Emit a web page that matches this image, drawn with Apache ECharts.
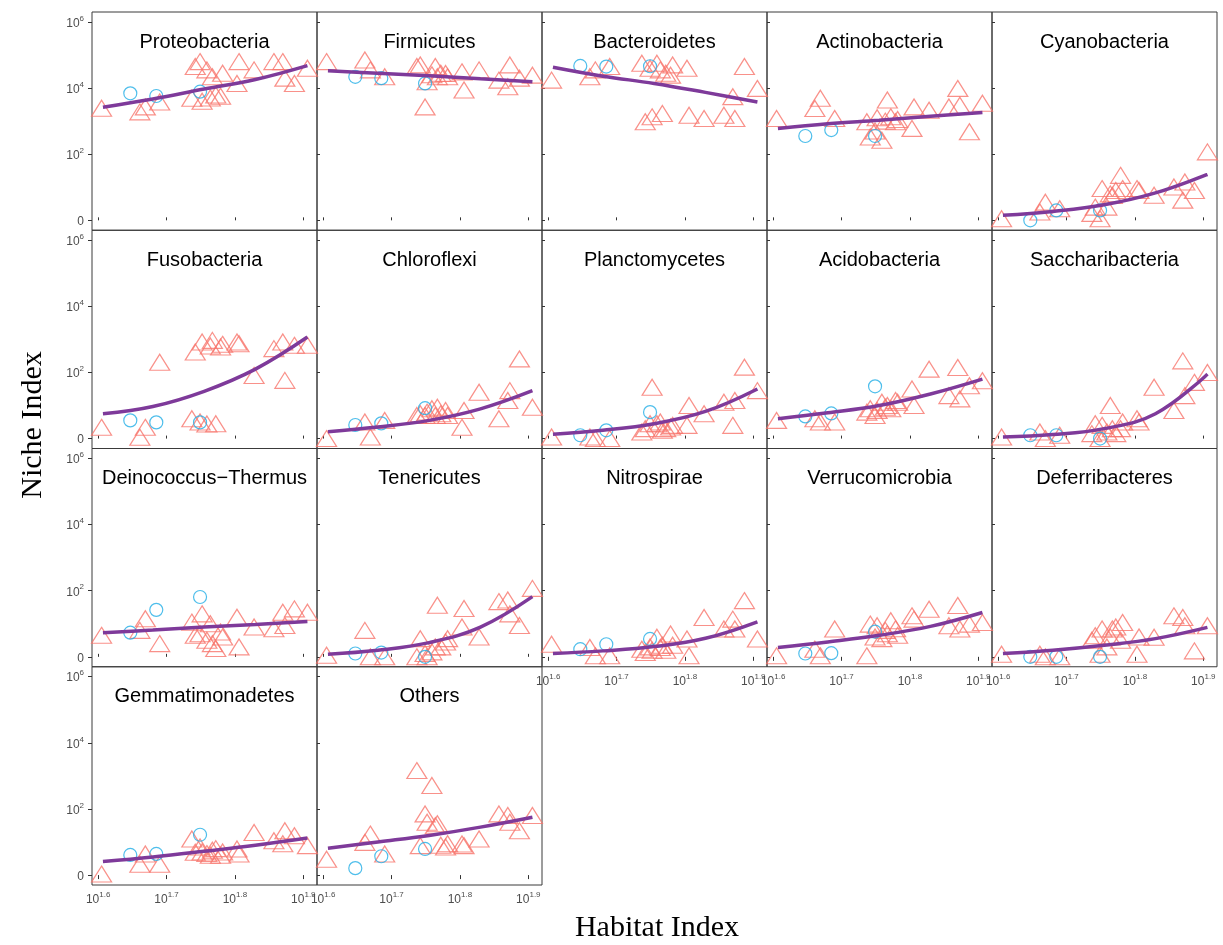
<!DOCTYPE html>
<html>
<head>
<meta charset="utf-8">
<script src="https://cdn.jsdelivr.net/npm/echarts@6/dist/echarts.min.js"></script>
<style>
  html, body { margin: 0; padding: 0; background: #fff; }
  #chart { width: 1223px; height: 945px; }
</style>
</head>
<body>
<div id="chart"></div>
<script>
// ---- data (log10 units: x = log10 habitat index, y = log10 niche index) ----
var panelNames = ['Proteobacteria', 'Firmicutes', 'Bacteroidetes', 'Actinobacteria', 'Cyanobacteria',
  'Fusobacteria', 'Chloroflexi', 'Planctomycetes', 'Acidobacteria', 'Saccharibacteria',
  'Deinococcus\u2212Thermus', 'Tenericutes', 'Nitrospirae', 'Verrucomicrobia', 'Deferribacteres',
  'Gemmatimonadetes', 'Others'];

// habitat index of the samples (triangles / circles) and x of the fitted curve
var triX = [1.605, 1.661, 1.669, 1.690, 1.737, 1.742, 1.749, 1.752, 1.759, 1.764, 1.767,
  1.772, 1.779, 1.782, 1.803, 1.806, 1.828, 1.857, 1.870, 1.873, 1.887, 1.906];
var circX = [1.647, 1.685, 1.749];
var fitX = [1.607, 1.680, 1.755, 1.830, 1.906];

var xTicks = [1.6, 1.7, 1.8, 1.9];
var yTicks = [0, 2, 4, 6];

var proteoTri = [3.39, 3.28, 3.43, 3.58, 3.69, 4.65, 4.8, 3.6, 4.55, 3.7, 4.34, 3.79, 3.75, 4.45, 4.14, 4.8, 4.55, 4.8, 4.8, 4.3, 4.14, 4.6];
var proteoCirc = [3.84, 3.76, 3.89];
var proteoFit = [3.42, 3.67, 3.97, 4.26, 4.68];

var firmiTri = [4.8, 4.85, 4.55, 4.34, 4.65, 4.7, 3.43, 4.19, 4.4, 4.65, 4.34, 4.45, 4.44, 4.34, 4.49, 3.94, 4.55, 4.24, 4.04, 4.7, 4.3, 4.39];
var firmiCirc = [4.34, 4.3, 4.14];
var firmiFit = [4.52, 4.45, 4.37, 4.28, 4.19];

var bacteTri = [4.24, 4.34, 4.55, 4.65, 4.75, 2.98, 4.6, 3.13, 4.75, 4.55, 3.23, 4.45, 4.39, 4.7, 4.6, 3.18, 3.08, 3.18, 3.74, 3.08, 4.65, 3.99];
var bacteCirc = [4.67, 4.65, 4.66];
var bacteFit = [4.63, 4.36, 4.14, 3.87, 3.58];

var actinoTri = [3.08, 3.38, 3.69, 3.08, 2.98, 2.52, 2.7, 3.1, 2.42, 3.0, 3.64, 3.13, 2.98, 3.05, 2.78, 3.43, 3.33, 3.43, 3.99, 3.48, 2.68, 3.54];
var actinoCirc = [2.55, 2.73, 2.55];
var actinoFit = [2.78, 2.92, 3.03, 3.15, 3.26];

var cyanoTri = [0.05, 0.25, 0.55, 0.35, 0.21, 0.4, 0.05, 0.96, 0.4, 0.8, 0.75, 0.9, 1.36, 0.96, 0.96, 0.9, 0.76, 1.01, 0.61, 1.16, 0.9, 2.07];
var cyanoCirc = [0.0, 0.3, 0.3];
var cyanoFit = [0.15, 0.27, 0.47, 0.83, 1.39];

var fusoTri = [0.34, 0.04, 0.34, 2.31, 0.6, 2.62, 0.5, 2.92, 0.44, 2.8, 2.97, 0.45, 2.77, 2.85, 2.92, 2.87, 1.91, 2.72, 2.92, 1.76, 2.82, 2.82];
var fusoCirc = [0.55, 0.49, 0.49];
var fusoFit = [0.75, 0.97, 1.43, 2.1, 3.07];

var chloroTri = [0.0, 0.5, 0.05, 0.55, 0.7, 0.75, 0.7, 0.8, 0.9, 0.7, 0.95, 0.75, 0.85, 0.7, 0.34, 0.85, 1.4, 0.6, 1.15, 1.45, 2.41, 0.95];
var chloroCirc = [0.41, 0.46, 0.92];
var chloroFit = [0.21, 0.35, 0.55, 0.9, 1.45];

var planctoTri = [0.05, 0.05, 0.0, 0.0, 0.2, 0.3, 0.45, 1.55, 0.45, 0.5, 0.25, 0.3, 0.35, 0.4, 0.4, 1.0, 0.75, 1.1, 0.4, 1.15, 2.16, 1.45];
var planctoCirc = [0.1, 0.25, 0.8];
var planctoFit = [0.13, 0.25, 0.45, 0.82, 1.5];

var acidoTri = [0.55, 0.6, 0.5, 0.5, 0.8, 0.9, 0.7, 0.85, 1.1, 0.95, 1.0, 0.9, 1.15, 1.1, 1.5, 1.0, 2.1, 1.3, 2.15, 1.2, 1.6, 1.75];
var acidoCirc = [0.67, 0.76, 1.58];
var acidoFit = [0.6, 0.78, 1.0, 1.35, 1.8];

var saccharTri = [0.05, 0.2, 0.0, 0.1, 0.15, 0.45, 0.0, 0.4, 0.2, 1.0, 0.3, 0.15, 0.3, 0.5, 0.6, 0.5, 1.55, 0.85, 2.35, 1.3, 1.7, 2.0];
var saccharCirc = [0.1, 0.1, 0.0];
var saccharFit = [0.05, 0.12, 0.3, 0.75, 1.95];

var deinoTri = [0.65, 0.8, 1.15, 0.4, 1.05, 0.65, 0.7, 1.3, 0.5, 1.0, 0.4, 0.25, 0.75, 0.6, 1.2, 0.3, 0.9, 0.85, 1.35, 0.95, 1.45, 1.35];
var deinoCirc = [0.73, 1.42, 1.81];
var deinoFit = [0.73, 0.81, 0.9, 0.98, 1.07];

var teneriTri = [0.05, 0.8, 0.0, 0.0, 0.0, 0.55, 0.1, 0.0, 0.15, 0.3, 1.56, 0.3, 0.45, 0.55, 0.9, 1.46, 0.6, 1.67, 1.72, 1.3, 0.95, 2.07];
var teneriCirc = [0.1, 0.13, 0.0];
var teneriFit = [0.08, 0.2, 0.43, 0.9, 1.82];

var nitroTri = [0.38, 0.28, 0.03, 0.03, 0.23, 0.13, 0.3, 0.2, 0.59, 0.28, 0.35, 0.2, 0.69, 0.35, 0.54, 0.03, 1.19, 0.84, 1.14, 0.84, 1.7, 0.54];
var nitroCirc = [0.23, 0.38, 0.54];
var nitroFit = [0.1, 0.18, 0.31, 0.56, 1.06];

var verrucoTri = [0.03, 0.23, 0.03, 0.84, 0.03, 0.99, 0.6, 0.94, 0.55, 0.8, 0.7, 1.09, 0.85, 0.65, 1.24, 1.14, 1.44, 0.94, 1.55, 0.84, 0.99, 1.04];
var verrucoCirc = [0.1, 0.11, 0.76];
var verrucoFit = [0.28, 0.45, 0.65, 0.92, 1.34];

var deferriTri = [0.08, 0.08, 0.0, 0.0, 0.5, 0.64, 0.08, 0.84, 0.3, 0.6, 0.84, 0.9, 0.5, 1.04, 0.08, 0.6, 0.59, 1.24, 1.19, 0.94, 0.18, 0.94];
var deferriCirc = [0.0, 0.0, 0.0];
var deferriFit = [0.1, 0.2, 0.35, 0.55, 0.89];

var gemmaTri = [0.03, 0.33, 0.64, 0.33, 1.09, 0.69, 0.85, 0.7, 0.65, 0.6, 0.75, 0.8, 0.6, 0.7, 0.79, 0.64, 1.29, 1.04, 0.95, 1.34, 1.19, 0.89];
var gemmaCirc = [0.61, 0.64, 1.22];
var gemmaFit = [0.41, 0.55, 0.72, 0.9, 1.12];

var othersTri = [0.48, 0.99, 1.24, 0.64, 3.16, 0.89, 1.85, 1.6, 2.71, 1.49, 1.55, 0.9, 0.85, 0.95, 0.94, 0.89, 1.09, 1.85, 1.8, 1.6, 1.34, 1.8];
var othersCirc = [0.21, 0.57, 0.79];
var othersFit = [0.81, 1.0, 1.2, 1.45, 1.75];

var triY = [proteoTri, firmiTri, bacteTri, actinoTri, cyanoTri, fusoTri, chloroTri, planctoTri,
  acidoTri, saccharTri, deinoTri, teneriTri, nitroTri, verrucoTri, deferriTri, gemmaTri, othersTri];
var circY = [proteoCirc, firmiCirc, bacteCirc, actinoCirc, cyanoCirc, fusoCirc, chloroCirc, planctoCirc,
  acidoCirc, saccharCirc, deinoCirc, teneriCirc, nitroCirc, verrucoCirc, deferriCirc, gemmaCirc, othersCirc];
var fitY = [proteoFit, firmiFit, bacteFit, actinoFit, cyanoFit, fusoFit, chloroFit, planctoFit,
  acidoFit, saccharFit, deinoFit, teneriFit, nitroFit, verrucoFit, deferriFit, gemmaFit, othersFit];

// ---- layout ----
var panelLeft = 92, panelTop = 12, panelW = 225, panelH = 218.25;
var triColor = '#F8766D', circColor = '#22AEE6', fitColor = '#7E3A9A';
var tickColor = '#4D4D4D';

var chart = echarts.init(document.getElementById('chart'));

var grids = [], xAxes = [], yAxes = [], series = [], graphics = [];

function zip(xs, ys) {
  return xs.map(function (x, j) { return [x, ys[j]]; });
}

panelNames.forEach(function (name, i) {
  var col = i % 5, row = Math.floor(i / 5);
  var left = panelLeft + col * panelW;
  var top = panelTop + row * panelH;
  var showX = row === 3 || (row === 2 && col >= 2);
  var showY = col === 0;

  grids.push({
    left: left, top: top, width: panelW, height: panelH,
    show: true, borderColor: '#3a3a3a', borderWidth: 1, backgroundColor: 'transparent'
  });

  xAxes.push({
    type: 'value', gridIndex: i, min: 1.591, max: 1.920,
    axisLine: { show: false },
    splitLine: { show: false },
    axisTick: { show: true, inside: !showX, length: showX ? 4 : 3, customValues: xTicks,
      lineStyle: { color: '#333', width: 1 } },
    axisLabel: {
      show: showX, customValues: xTicks, margin: 6, color: tickColor,
      fontFamily: 'Arial, "Liberation Sans", sans-serif', fontSize: 12,
      formatter: function (v) { return '{b|10}{s|' + v.toFixed(1) + '}'; },
      rich: {
        b: { fontSize: 12, color: tickColor, lineHeight: 15, verticalAlign: 'bottom' },
        s: { fontSize: 8, color: tickColor, lineHeight: 9, verticalAlign: 'top' }
      }
    }
  });

  yAxes.push({
    type: 'value', gridIndex: i, min: -0.3, max: 6.3,
    axisLine: { show: false },
    splitLine: { show: false },
    axisTick: { show: true, inside: !showY, length: showY ? 4 : 3, customValues: yTicks,
      lineStyle: { color: '#333', width: 1 } },
    axisLabel: {
      show: showY, customValues: yTicks, margin: 8, color: tickColor,
      fontFamily: 'Arial, "Liberation Sans", sans-serif', fontSize: 12,
      formatter: function (v) { return v === 0 ? '{b|0}' : '{b|10}{s|' + v + '}'; },
      rich: {
        b: { fontSize: 12, color: tickColor, lineHeight: 15, verticalAlign: 'bottom' },
        s: { fontSize: 8, color: tickColor, lineHeight: 9, verticalAlign: 'top' }
      }
    }
  });

  series.push({
    type: 'scatter', xAxisIndex: i, yAxisIndex: i,
    data: zip(triX, triY[i]),
    symbol: 'triangle', symbolSize: [20, 16],
    itemStyle: { color: 'rgba(0,0,0,0)', borderColor: triColor, borderWidth: 1.2 },
    z: 2
  });
  series.push({
    type: 'scatter', xAxisIndex: i, yAxisIndex: i,
    data: zip(circX, circY[i]),
    symbol: 'circle', symbolSize: 13,
    itemStyle: { color: 'rgba(0,0,0,0)', borderColor: circColor, borderWidth: 1.2 },
    z: 3
  });
  series.push({
    type: 'line', xAxisIndex: i, yAxisIndex: i,
    data: zip(fitX, fitY[i]),
    smooth: 0.4, symbol: 'none',
    lineStyle: { color: fitColor, width: 3.5 },
    z: 4
  });

  graphics.push({
    type: 'text', x: left + panelW / 2, y: top + 30, z: 10,
    style: {
      text: name, textAlign: 'center', textVerticalAlign: 'middle',
      font: '20px Arial, "Liberation Sans", sans-serif', fill: '#000'
    }
  });
});

graphics.push({
  type: 'text', x: 33, y: 425, rotation: Math.PI / 2, z: 10,
  style: {
    text: 'Niche Index', textAlign: 'center', textVerticalAlign: 'middle',
    font: '30px "Times New Roman", "Liberation Serif", serif', fill: '#000'
  }
});
graphics.push({
  type: 'text', x: 657, y: 928, z: 10,
  style: {
    text: 'Habitat Index', textAlign: 'center', textVerticalAlign: 'middle',
    font: '30px "Times New Roman", "Liberation Serif", serif', fill: '#000'
  }
});

chart.setOption({
  animation: false,
  backgroundColor: '#fff',
  grid: grids,
  xAxis: xAxes,
  yAxis: yAxes,
  series: series,
  graphic: graphics
});
</script>
</body>
</html>
